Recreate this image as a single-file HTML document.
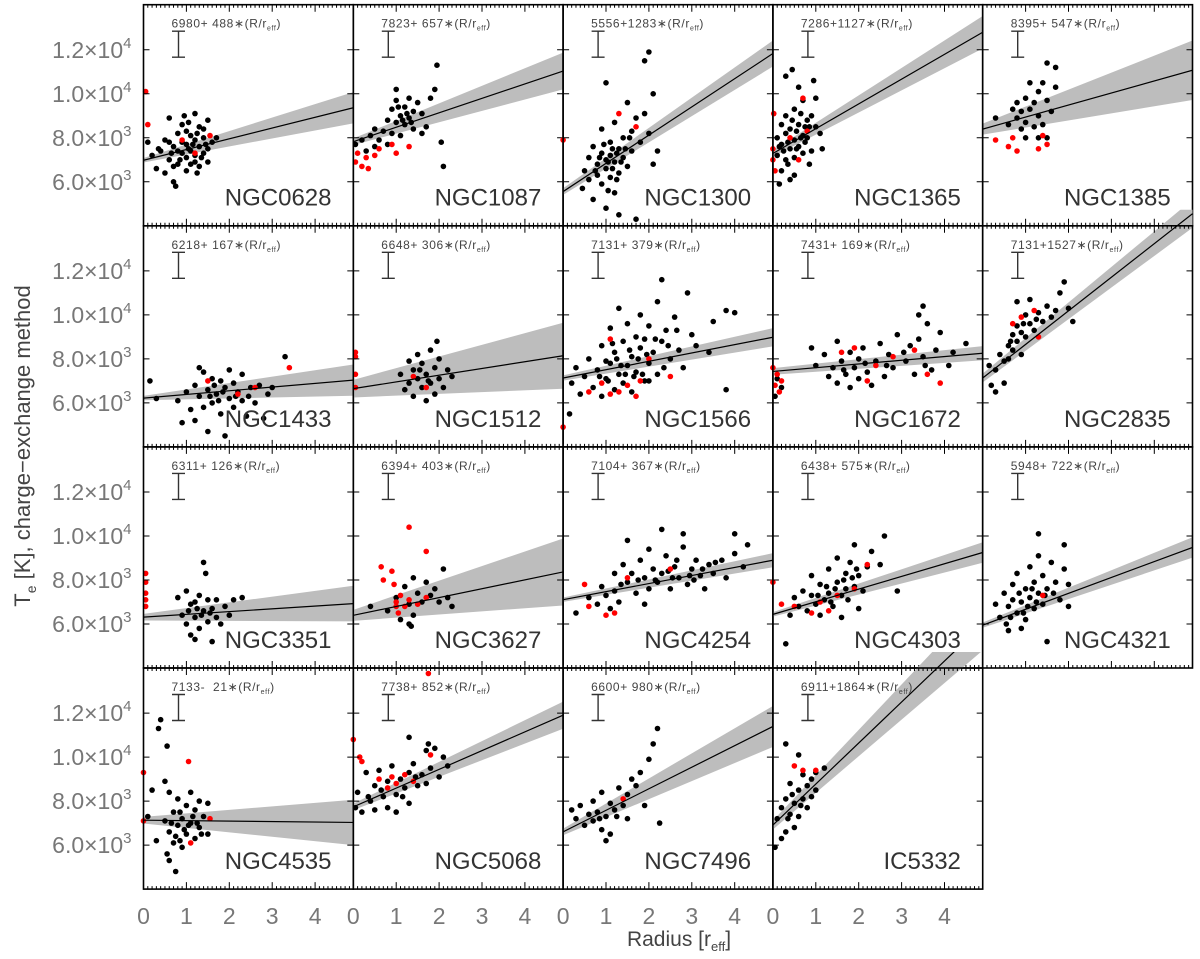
<!DOCTYPE html>
<html><head><meta charset="utf-8"><style>
html,body{margin:0;padding:0;background:#fff;}
svg{display:block;font-family:"Liberation Sans",sans-serif;}
</style></head><body>
<svg id="chart" width="1200" height="959" viewBox="0 0 1200 959" xmlns="http://www.w3.org/2000/svg">
<text transform="translate(30,446) rotate(-90)" text-anchor="middle" font-size="22" fill="#444">T<tspan font-size="14" dy="6">e</tspan><tspan dy="-6"> [K], charge−exchange method</tspan></text>
<text x="679" y="946" text-anchor="middle" font-size="21" fill="#444">Radius [r<tspan font-size="13" dy="5">eff</tspan><tspan dy="-5">]</tspan></text>
</svg>
<script>
const galaxyNames=["NGC0628","NGC1087","NGC1300","NGC1365","NGC1385","NGC1433","NGC1512","NGC1566","NGC1672","NGC2835","NGC3351","NGC3627","NGC4254","NGC4303","NGC4321","NGC4535","NGC5068","NGC7496","IC5332"];
const intercepts=[6980,7823,5556,7286,8395,6218,6648,7131,7431,7131,6311,6394,7104,6438,5948,7133,7738,6600,6911];
const slopes=[488,657,1283,1127,547,167,306,379,169,1527,126,403,367,575,722,-21,852,980,1864];
const interceptErr=[100,150,150,150,250,100,400,120,150,200,150,250,100,100,120,150,150,150,200];
const slopeErr=[125,140,90,120,225,125,225,60,35,90,135,260,45,75,70,180,95,160,200];
const xTicks=[0,1,2,3,4];
const yTicks=[6000,8000,10000,12000];
const yTickLabels=[["6.0","3"],["8.0","3"],["1.0","4"],["1.2","4"]];
const blackPts=[
[[0.1,7800],[0.2,7200],[0.3,6600],[0.4,7400],[0.5,6400],[0.5,7900],[0.6,8900],[0.6,7000],[0.7,6000],[0.7,7600],[0.8,8200],[0.8,6800],[0.9,7300],[0.9,8600],[1.0,7700],[1.0,6500],[1.0,7100],[1.1,8100],[1.1,7400],[1.1,6800],[1.2,9100],[1.2,7900],[1.2,7200],[1.3,8500],[1.3,7600],[1.3,6700],[1.4,8000],[1.4,7300],[1.5,8800],[1.5,7500],[1.5,6900],[1.6,7800],[1.7,8000],[0.75,5800],[1.25,6400],[0.35,7500],[0.95,9000],[0.85,7000],[1.05,7500],[0.65,7300],[0.9,7800],[1.0,8300],[1.15,7700],[1.25,8200],[1.35,7100],[1.45,7700],[0.8,7400],[0.7,6700],[1.2,6900],[1.05,8700],[1.4,8400],[0.6,7800]],
[[0.05,7700],[0.2,7900],[0.3,7400],[0.4,8100],[0.5,7600],[0.5,8400],[0.6,7900],[0.7,8300],[0.8,8800],[0.8,7700],[0.9,9300],[0.9,8200],[1.0,8700],[1.0,9700],[1.1,9000],[1.1,8100],[1.2,9400],[1.2,8600],[1.3,9800],[1.3,8900],[1.4,9200],[1.4,8400],[1.5,9600],[1.6,9100],[1.7,8500],[1.8,9800],[1.9,10200],[1.95,11300],[2.05,7800],[2.1,6700],[1.0,10200],[1.6,8200],[1.15,8800],[1.25,9100],[1.35,8700],[1.05,9400]],
[[0.45,5700],[0.5,6500],[0.6,7100],[0.6,6100],[0.7,5200],[0.7,7600],[0.8,6800],[0.8,6300],[0.9,7300],[0.9,5900],[0.9,8400],[1.0,7000],[1.0,6600],[1.0,4800],[1.1,7800],[1.1,6200],[1.1,7200],[1.2,6900],[1.2,8700],[1.2,5500],[1.3,7500],[1.3,6400],[1.3,4500],[1.4,8000],[1.4,7100],[1.5,9600],[1.5,6700],[1.6,8300],[1.6,7400],[1.7,8900],[1.7,4300],[1.8,7800],[1.9,9100],[1.9,11500],[2.0,11900],[2.0,8200],[2.1,10000],[2.2,7400],[1.0,10500],[2.1,6800],[1.15,6600],[0.95,7700],[1.25,7300],[1.05,6900],[1.15,7500],[1.35,6900],[0.85,7100],[1.25,6100],[1.45,7500],[0.75,6500],[1.05,5600],[1.55,8000]],
[[0.1,7200],[0.1,8000],[0.2,6500],[0.2,7700],[0.2,8600],[0.3,7000],[0.3,8200],[0.3,9000],[0.3,10800],[0.4,6100],[0.4,7500],[0.4,8400],[0.5,7100],[0.5,7900],[0.5,9300],[0.5,6300],[0.6,8600],[0.6,7600],[0.6,10300],[0.7,8100],[0.7,9700],[0.7,7300],[0.8,8800],[0.8,8000],[0.9,9000],[0.9,7400],[0.95,10600],[1.0,8500],[1.0,9800],[1.1,8200],[1.15,7500],[0.15,5900],[0.45,11100],[0.85,6800],[0.35,7800],[0.55,8300],[0.75,8500],[0.25,7400],[0.45,8800],[0.65,8000],[0.55,7500],[0.35,6800],[0.75,7800],[0.85,8500],[0.65,9100],[0.15,7600]],
[[0.3,8900],[0.6,8600],[0.7,9300],[0.8,8900],[0.8,9600],[0.9,8400],[0.9,9200],[1.0,9800],[1.0,8700],[1.1,9300],[1.1,10500],[1.2,8500],[1.2,9600],[1.3,10100],[1.3,9000],[1.4,10500],[1.4,8600],[1.5,9700],[1.5,11400],[1.6,9200],[1.7,10300],[1.7,11200],[1.5,8000],[1.3,8000],[1.0,8000]],
[[0.15,7000],[0.3,6200],[0.8,6100],[0.9,5100],[1.0,6500],[1.1,5700],[1.2,6800],[1.2,5200],[1.3,6300],[1.4,7400],[1.4,5800],[1.5,6600],[1.5,4700],[1.6,6000],[1.6,7100],[1.7,6400],[1.8,5500],[1.8,7000],[1.9,6700],[1.9,4500],[2.0,6200],[2.1,6900],[2.1,5800],[2.2,6500],[2.3,7300],[2.3,6100],[2.4,5400],[2.5,6700],[2.6,6000],[2.7,6800],[2.8,5300],[2.9,6400],[3.0,6700],[3.3,8100],[2.0,7500],[1.3,7600],[1.75,6100],[2.15,6300],[1.55,6300],[1.85,6500],[2.45,6300],[1.65,6800]],
[[1.1,7300],[1.2,6600],[1.3,7900],[1.3,6900],[1.4,7500],[1.4,6300],[1.5,8200],[1.5,7100],[1.6,6700],[1.6,7800],[1.7,7300],[1.7,6100],[1.8,8400],[1.8,6900],[1.9,7600],[1.9,6400],[2.0,7100],[2.0,8000],[2.1,6700],[2.2,7500],[2.3,7200],[1.95,8800],[1.55,7500],[1.75,7000]],
[[0.2,6900],[0.3,7600],[0.4,6400],[0.5,7200],[0.6,8000],[0.7,6700],[0.8,7500],[0.9,8600],[0.9,6300],[1.0,7100],[1.1,9400],[1.1,7800],[1.2,6600],[1.2,8300],[1.3,7300],[1.3,10300],[1.4,8800],[1.4,6900],[1.5,7700],[1.5,9600],[1.6,8100],[1.6,6500],[1.7,9000],[1.7,7400],[1.8,8500],[1.8,10000],[1.9,7000],[1.9,8900],[2.0,7800],[2.0,9500],[2.1,8300],[2.2,10600],[2.2,7300],[2.3,8800],[2.4,9300],[2.5,8000],[2.6,9900],[2.7,8400],[2.8,7600],[3.0,9100],[3.1,8600],[3.4,8300],[3.5,9700],[3.8,10200],[4.0,10100],[2.3,11600],[2.9,11000],[0.15,5500],[3.8,6600],[1.0,7900],[1.35,7700],[1.65,7200],[2.0,7000],[1.25,8000],[1.45,7300],[1.55,8400],[1.75,8000],[1.85,7300],[2.15,8900],[2.45,8600],[1.05,7000],[0.85,7200],[1.95,8200],[2.35,7600],[1.15,8700],[2.65,9300]],
[[0.05,6300],[0.1,7100],[0.2,6700],[0.9,8500],[1.0,7700],[1.2,8200],[1.3,7200],[1.4,7600],[1.5,8800],[1.5,6900],[1.6,7900],[1.7,7300],[1.8,8300],[1.8,6700],[1.9,7600],[2.0,8000],[2.0,7100],[2.1,8500],[2.2,7400],[2.3,6800],[2.4,7900],[2.5,8700],[2.6,7200],[2.7,8200],[2.8,7600],[2.9,9100],[3.1,7900],[3.2,8600],[3.3,7300],[3.4,8900],[3.5,8100],[3.6,9600],[3.7,7500],[3.8,8400],[3.9,9200],[4.1,7700],[4.2,8300],[4.5,8700],[3.5,10400],[3.4,10000],[1.65,7500],[2.15,7800],[2.65,7700],[3.05,8300],[3.55,7700]],
[[0.15,7700],[0.2,6800],[0.3,7500],[0.4,8200],[0.5,7900],[0.5,6900],[0.6,8600],[0.6,8000],[0.7,9100],[0.7,8400],[0.8,9500],[0.8,8800],[0.9,9200],[0.9,8200],[1.0,10000],[1.0,9000],[1.1,9600],[1.1,10700],[1.2,9300],[1.3,10100],[1.4,9700],[1.5,10400],[1.6,9900],[1.7,10200],[1.8,11000],[1.9,11500],[2.0,10300],[2.1,9700],[0.8,10600],[0.3,6500],[0.65,8800],[0.95,9600],[1.25,9800]],
[[0.8,7200],[0.9,6400],[1.0,7500],[1.0,6000],[1.1,6900],[1.1,5500],[1.2,7000],[1.2,6300],[1.3,7300],[1.3,5800],[1.4,6600],[1.4,8800],[1.5,6100],[1.5,7100],[1.6,6700],[1.6,5200],[1.7,7100],[1.7,6300],[1.8,6000],[1.9,6800],[2.0,6400],[2.1,7100],[2.3,7200],[1.45,8300],[1.2,5300],[1.35,6400],[1.25,6700],[1.55,6500],[1.05,6600]],
[[0.4,6800],[0.8,6600],[1.0,7200],[1.1,6200],[1.2,7700],[1.3,6900],[1.4,6400],[1.5,7400],[1.6,7000],[1.7,7900],[1.8,7300],[1.9,7600],[2.0,7000],[2.1,8500],[2.2,7200],[2.3,6800],[1.4,8100],[1.35,5900],[1.3,6000]],
[[0.3,6500],[0.6,7200],[0.8,6900],[0.9,7700],[1.0,7300],[1.1,6700],[1.2,8300],[1.2,7500],[1.3,7000],[1.4,8700],[1.5,7900],[1.5,9800],[1.6,8300],[1.7,7400],[1.8,8900],[1.9,8100],[2.0,7600],[2.0,9400],[2.1,8500],[2.2,7900],[2.3,8300],[2.4,9100],[2.5,7600],[2.6,8600],[2.7,8100],[2.8,9500],[2.9,7800],[3.0,8500],[3.1,8900],[3.2,8200],[3.3,7600],[3.4,8700],[3.5,8300],[3.7,8900],[3.8,8100],[4.0,9200],[4.2,8600],[4.3,9600],[2.3,10300],[2.8,10100],[1.9,6900],[4.0,10100],[1.75,8000],[2.15,8000],[2.45,8400],[2.65,8900],[2.95,8200],[3.25,8500],[3.55,8800],[1.35,7800],[2.55,8100],[3.05,8000]],
[[0.4,6400],[0.5,7200],[0.6,6800],[0.7,7500],[0.8,6600],[0.9,7300],[0.9,8200],[1.0,6900],[1.1,7800],[1.1,6400],[1.2,7100],[1.3,8500],[1.3,7400],[1.4,6800],[1.5,7900],[1.5,9000],[1.6,7300],[1.7,8300],[1.7,7600],[1.8,8800],[1.9,7700],[1.9,9600],[2.0,8200],[2.1,7500],[2.2,8600],[2.3,9300],[2.5,8700],[2.6,10000],[2.9,7500],[1.6,6300],[0.3,5100],[2.0,6700],[1.25,7700],[1.45,7600],[1.65,8000],[1.85,8100],[1.05,7300],[1.35,7000],[1.75,7100],[1.95,8500]],
[[0.3,6900],[0.4,6300],[0.5,7400],[0.6,6800],[0.6,5700],[0.7,7800],[0.7,7100],[0.8,6500],[0.8,8300],[0.9,7000],[0.9,5800],[1.0,7600],[1.0,6200],[1.1,8600],[1.1,7200],[1.2,6700],[1.2,7900],[1.3,9100],[1.3,7400],[1.4,6900],[1.4,8200],[1.5,7600],[1.5,5200],[1.6,8800],[1.7,7900],[1.8,7100],[1.9,8500],[2.0,7800],[1.9,9600],[1.3,10100],[2.0,6800],[0.65,6300],[0.85,7400],[1.05,6800],[1.25,7000],[1.45,7300],[1.65,7400],[0.55,6000],[0.95,6500],[1.15,7600]],
[[0.1,7300],[0.2,8500],[0.3,6200],[0.35,11300],[0.4,11700],[0.55,10500],[0.5,7100],[0.5,8900],[0.6,6600],[0.6,5300],[0.7,7500],[0.7,6100],[0.8,8100],[0.8,6900],[0.9,7200],[0.9,5900],[1.0,7800],[1.0,6500],[1.1,8400],[1.1,7000],[1.2,6300],[1.2,7600],[1.3,6800],[1.3,8000],[1.4,7300],[1.5,7900],[1.5,6500],[0.55,5600],[0.75,4800],[0.85,7500],[1.05,6900],[0.65,7000],[0.75,6400],[0.95,6700],[1.15,7300],[1.25,7000],[0.85,6200],[1.35,6500],[0.6,8400]],
[[0.05,7700],[0.1,8400],[0.2,7500],[0.3,9300],[0.4,8000],[0.5,7600],[0.5,8700],[0.6,9400],[0.7,8200],[0.8,7700],[0.8,8900],[0.9,9600],[1.0,8300],[1.0,7500],[1.1,9000],[1.2,8600],[1.3,9300],[1.3,7900],[1.4,9700],[1.5,8700],[1.6,9200],[1.7,10300],[1.7,8800],[1.8,9500],[1.9,10400],[2.0,9100],[2.1,10000],[2.2,9600],[1.3,10900],[1.75,10600],[0.65,8500],[1.15,8200],[1.45,9100],[0.35,8200]],
[[0.2,7600],[0.3,7200],[0.4,7800],[0.5,6900],[0.6,7400],[0.7,8000],[0.7,7100],[0.8,7500],[0.9,6700],[0.9,8400],[1.0,7300],[1.1,7900],[1.1,6500],[1.2,7600],[1.3,8600],[1.4,7800],[1.5,8300],[1.5,7200],[1.6,9000],[1.7,8700],[1.8,9300],[1.9,7800],[2.1,10600],[2.2,11300],[2.25,7000],[2.0,9900],[1.0,6200],[0.85,7200],[1.25,7300]],
[[0.05,5900],[0.1,7200],[0.2,7700],[0.3,6600],[0.3,8100],[0.4,7400],[0.4,8800],[0.5,7900],[0.5,6800],[0.6,8500],[0.6,7300],[0.7,9200],[0.7,8100],[0.8,7700],[0.8,8700],[0.9,9000],[0.9,8200],[1.0,8500],[1.2,9500],[0.3,10600],[0.6,10100],[1.0,9300],[0.2,6300],[0.45,8300],[0.65,7800],[0.35,7200]]
];
const redPts=[
[[0.05,10100],[0.1,8600],[0.9,7900],[1.55,8100],[1.2,7300]],
[[0.05,6900],[0.1,7300],[0.2,6700],[0.3,7100],[0.35,6600],[0.5,7200],[0.6,7500],[0.9,7700],[1.0,7300],[1.3,7600]],
[[0.0,7900],[1.3,9100],[1.7,8500]],
[[0.0,7000],[0.0,7500],[0.02,9100],[0.05,6500],[0.4,8000],[0.7,9800],[0.8,8300],[0.6,7000]],
[[0.3,7900],[0.6,7600],[0.7,8000],[0.8,7400],[1.3,7500],[1.5,7700],[1.4,8100]],
[[1.5,7000],[2.6,6700],[3.4,7600],[2.2,6400]],
[[0.05,8300],[0.05,8100],[0.05,7300],[0.05,6700],[1.4,7200],[1.7,6700]],
[[0.6,6500],[0.9,6900],[1.1,6400],[1.3,6500],[1.5,6800],[1.7,6300],[1.8,7000],[2.0,8000],[2.5,7200],[1.1,8900],[0.0,4900]],
[[0.0,7600],[0.05,6800],[0.1,7300],[0.15,6500],[0.2,7000],[1.6,8300],[2.2,7000],[2.4,7700],[2.8,8100],[3.3,8400],[3.6,7300],[3.9,6900],[1.9,8500]],
[[0.7,9600],[0.9,9900],[1.2,10200],[1.3,9000]],
[[0.05,8300],[0.05,7900],[0.05,7400],[0.05,7100],[0.05,6800]],
[[0.65,8600],[0.7,8000],[0.9,8400],[0.95,7800],[1.0,7000],[1.0,6800],[1.05,6500],[1.1,7300],[1.2,6800],[1.3,7100],[1.5,6900],[1.7,7200],[1.3,10400],[1.7,9300]],
[[0.5,7800],[1.2,6500],[1.0,6400],[0.6,6800],[1.5,8100],[2.5,8500]],
[[0.0,7900],[0.5,6800],[0.9,6500],[1.1,7000],[1.3,6600],[1.5,7300],[1.9,7600],[2.2,8700],[0.2,6900]],
[[1.4,7300]],
[[0.0,9300],[0.0,7100],[1.05,9800],[1.55,7200],[1.1,6100]],
[[0.0,10800],[0.15,10000],[0.2,9800],[0.6,9000],[0.8,8600],[0.9,9100],[1.0,8800],[1.2,9200],[1.4,8900],[1.8,10100],[1.75,13800]],
[[1.4,8100]],
[[0.5,9600],[0.7,9400],[1.0,9400]]
];

const NS="http://www.w3.org/2000/svg";
const svg=document.getElementById('chart');
const PX0=143.5, PY0=4.7, PW=209.8, PH=221.1, XMAX=PW/42.9, YMIN=4000, YMAX=14050;
function mk(tag,attrs,parent){const e=document.createElementNS(NS,tag);for(const k in attrs)e.setAttribute(k,attrs[k]);(parent||svg).appendChild(e);return e;}
const defs=mk('defs',{});
galaxyNames.forEach((name,i)=>{
  const col=i%5,row=Math.floor(i/5);
  const x0=PX0+col*PW,y0=PY0+row*PH;
  const sx=r=>x0+r/XMAX*PW;
  const sy=t=>y0+(YMAX-t)/(YMAX-YMIN)*PH;
  const g=mk('g',{});
  
  
  const cp=mk('clipPath',{id:'cp'+i},defs);
  mk('rect',{x:x0,y:y0-16,width:PW,height:PH+16},cp);
  const a=intercepts[i],b=slopes[i],ae=interceptErr[i],be=slopeErr[i];
  const band=mk('polygon',{points:`${sx(0)},${sy(a+ae)} ${sx(XMAX)},${sy(a+ae+(b+be)*XMAX)} ${sx(XMAX)},${sy(a-ae+(b-be)*XMAX)} ${sx(0)},${sy(a-ae)}`,fill:'#bdbdbd','clip-path':`url(#cp${i})`},g);
  
  
  blackPts[i].forEach(p=>{const c=mk('circle',{cx:sx(p[0]),cy:sy(p[1]),r:2.8,fill:'#000'},g);
    
    });
  redPts[i].forEach(p=>{const c=mk('circle',{cx:sx(p[0]),cy:sy(p[1]),r:2.8,fill:'#f00'},g);
    
    });
  const ln=mk('line',{x1:sx(0),y1:sy(a),x2:sx(XMAX),y2:sy(a+b*XMAX),stroke:'#000','stroke-width':1.2,'clip-path':`url(#cp${i})`},g);
  
  
  const fr=mk('rect',{x:x0,y:y0,width:PW,height:PH,fill:'none',stroke:'#000','stroke-width':1.6},g);
  
  
  let d='';
  for(let k=0;k*0.1<=XMAX+1e-9;k++){const x=sx(k*0.1);const L=(k%10===0)?7:3;d+=`M${x},${y0+PH}v${-L}M${x},${y0}v${L}`;}
  yTicks.forEach(t=>{const y=sy(t);d+=`M${x0},${y}h6M${x0+PW},${y}h-6`;});
  const tk=mk('path',{d:d,stroke:'#000','stroke-width':1,fill:'none'},g);
  
  
  const ex=x0+35;
  const eb=mk('path',{d:`M${ex},${y0+26.5}V${y0+52.5}M${ex-6.5},${y0+26.5}h13M${ex-6.5},${y0+52.5}h13`,stroke:'#333','stroke-width':1.4,fill:'none'},g);
  
  
  const bs=String(Math.abs(b)).padStart(4,' ');
  const eq=mk('text',{x:x0+28,y:y0+23,'font-size':12,'letter-spacing':0.6,fill:'#444','xml:space':'preserve'},g);
  
  
  eq.style.whiteSpace='pre';
  eq.textContent=`${a}${b>=0?'+':'-'}${bs}∗(R/r`;
  const sub=mk('tspan',{'font-size':7,dy:3},eq);sub.textContent='eff';
  const cl=mk('tspan',{dy:-3},eq);cl.textContent=')';
  const nm=mk('text',{x:x0+188,y:y0+201,'font-size':24,fill:'#333','text-anchor':'end'},g);
  
  
  nm.textContent=name;
  if(col===0){
    yTicks.forEach((t,j)=>{
      const tl=mk('text',{x:x0-12,y:sy(t)+8,'font-size':23,fill:'#777','text-anchor':'end'},svg);
      
      
      tl.textContent=yTickLabels[j][0]+'×10';
      const sp=mk('tspan',{'font-size':15,dy:-10},tl);sp.textContent=yTickLabels[j][1];
    });
  }
  if(row===3){
    xTicks.forEach(v=>{
      const xl=mk('text',{x:sx(v),y:924,'font-size':23,fill:'#777','text-anchor':'middle'},svg);
      
      
      xl.textContent=v;
    });
  }
});
</script>
</body></html>
